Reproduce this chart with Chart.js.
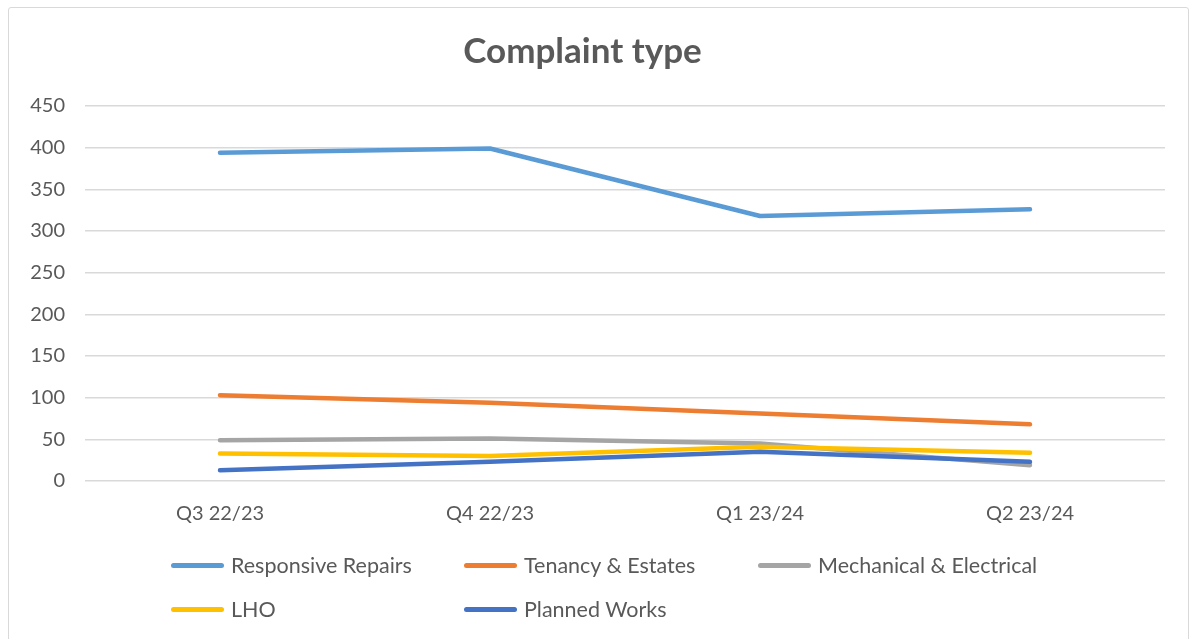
<!DOCTYPE html>
<html>
<head>
<meta charset="utf-8">
<script src="https://cdn.jsdelivr.net/npm/chart.js@4.4.1/dist/chart.umd.min.js"></script>
<style>
  html, body { margin: 0; padding: 0; background: #fff; overflow: hidden; }
  #wrap { position: relative; width: 1199px; height: 639px; }
  #frame { position: absolute; left: 8px; top: 7px; width: 1181px; height: 660px;
           border: 1px solid #d9d9d9; border-radius: 3px; box-sizing: border-box; pointer-events: none; }
  .leg { position: absolute; font-family: Lato, "Noto Sans", sans-serif; font-size: 21.5px; color: #595959;
         white-space: nowrap; line-height: 24px; }
  .leg i { position: absolute; left: 0; top: 10px; width: 53px; height: 5px; border-radius: 3px; }
  .leg span { position: absolute; left: 60px; top: 0; }
</style>
</head>
<body>
<div id="wrap">
  <canvas id="complaintChart" width="1199" height="639"></canvas>
  <div id="frame"></div>
  <div id="legend"></div>
</div>
<script>
// quarters on the x axis
const quarters = ['Q3 22/23', 'Q4 22/23', 'Q1 23/24', 'Q2 23/24'];

// series values
const responsiveRepairs = [394, 399, 318, 326];
const tenancyEstates = [103, 94, 81, 68];
const mechElectrical = [49, 51, 45, 19];
const lho = [33, 30, 41, 34];
const plannedWorks = [13, 23, 35, 23];

const seriesNames = ['Responsive Repairs', 'Tenancy & Estates', 'Mechanical & Electrical', 'LHO', 'Planned Works'];
const seriesColors = ['#5B9BD5', '#ED7D31', '#A5A5A5', '#FFC000', '#4472C4'];
const seriesData = [responsiveRepairs, tenancyEstates, mechElectrical, lho, plannedWorks];

const textColor = '#595959';
const gridColor = '#d9d9d9';
const fontFamily = 'Lato, "Noto Sans", sans-serif';

const datasets = seriesNames.map((name, i) => ({
    label: name,
    data: seriesData[i],
    borderColor: seriesColors[i],
    backgroundColor: seriesColors[i],
    borderWidth: 4.5,
    pointRadius: 0,
    borderCapStyle: 'round',
    borderJoinStyle: 'round',
    tension: 0,
    order: seriesNames.length - i  // later series on top, like Excel
}));

new Chart(document.getElementById('complaintChart').getContext('2d'), {
    type: 'line',
    data: { labels: quarters, datasets: datasets },
    options: {
        responsive: false,
        animation: false,
        layout: { padding: { left: 0, right: 34, top: 0, bottom: 0 } },
        plugins: {
            legend: { display: false },
            tooltip: { enabled: false },
            title: {
                display: true,
                text: 'Complaint type',
                color: textColor,
                font: { family: fontFamily, size: 35, weight: 'bold' },
                padding: { top: 31, bottom: 33 }
            }
        },
        scales: {
            x: {
                offset: true,
                grid: { display: false, drawTicks: false },
                border: { display: false },
                ticks: {
                    color: textColor,
                    padding: 21,
                    font: { family: fontFamily, size: 20 }
                },
                afterFit: s => { s.height = 158; }
            },
            y: {
                min: 0,
                max: 450,
                grid: { color: gridColor, lineWidth: 1.5, drawTicks: false },
                border: { display: false },
                ticks: {
                    stepSize: 50,
                    color: textColor,
                    padding: 20,
                    font: { family: fontFamily, size: 20 }
                },
                afterFit: s => { s.width = 85; }
            }
        }
    }
});

// legend laid out in columns, as in the original
const legendPos = [[171, 553], [464, 553], [758, 553], [171, 597], [464, 597]];
const legendBox = document.getElementById('legend');
seriesNames.forEach((name, i) => {
    const item = document.createElement('div');
    item.className = 'leg';
    item.style.left = legendPos[i][0] + 'px';
    item.style.top = legendPos[i][1] + 'px';
    item.innerHTML = `<i style="background:${seriesColors[i]}"></i><span></span>`;
    item.querySelector('span').textContent = name;
    legendBox.appendChild(item);
});
</script>
</body>
</html>
